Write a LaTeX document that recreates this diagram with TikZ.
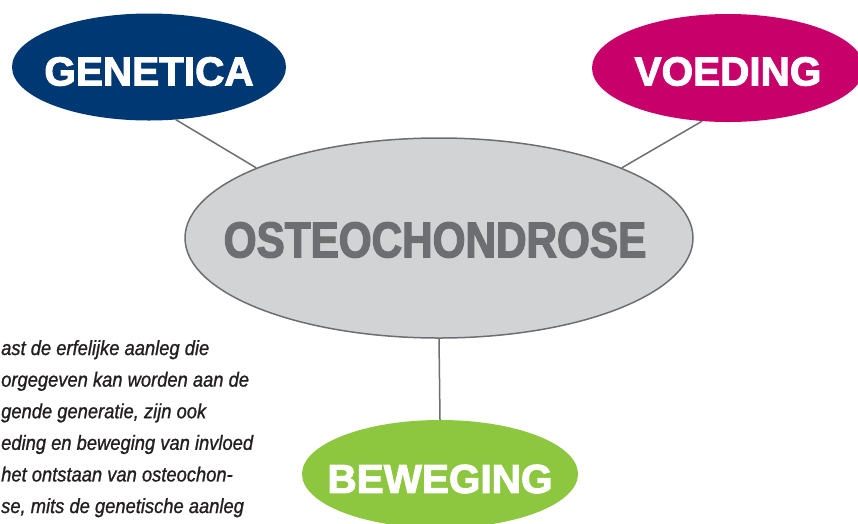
\documentclass[tikz,border=0pt]{standalone}
\usepackage{fontspec}
\usetikzlibrary{shapes.geometric}
\definecolor{genblue}{HTML}{003874}
\definecolor{voedmagenta}{HTML}{C8006A}
\definecolor{bewgreen}{HTML}{8DC63F}
\definecolor{hubgray}{HTML}{D1D3D4}
\definecolor{linegray}{HTML}{6D6E71}
\definecolor{textdark}{HTML}{231F20}
\newfontfamily\labelfont[FakeBold=2.5]{Liberation Sans Bold}
\newfontfamily\hubfont[FakeStretch=0.84, FakeBold=2.5]{Liberation Sans Bold}
\newfontfamily\bodyfont[FakeStretch=0.895, FakeBold=1]{Liberation Sans Italic}

\begin{document}
\begin{tikzpicture}[x=1pt, y=-1pt,
    hub/.style={ellipse, draw=linegray, line width=1.5pt, fill=hubgray,
                minimum width=508pt, minimum height=200pt, inner sep=0pt},
    hubtext/.style={text=linegray, inner sep=0pt,
                    font=\hubfont\fontsize{50.3}{50.3}\selectfont},
    factor/.style={ellipse, minimum width=274pt, minimum height=107pt, inner sep=0pt},
    factortext/.style={text=white, inner sep=0pt,
                       font=\labelfont\fontsize{40.5}{40.5}\selectfont},
    link/.style={draw=linegray, line width=1.5pt},
    note/.style={anchor=base west, inner sep=0pt, text=textdark,
                 font=\bodyfont\fontsize{20.5}{20.5}\selectfont}
  ]
    \clip (0,0) rectangle (858,523);

    % Center
    \node[hub] (osteo) at (439,238) {};
    \node[hubtext] (osteolabel) at ([xshift=-4pt, yshift=-2pt]osteo.center) {OSTEOCHONDROSE};

    % Factors
    \node[factor, fill=genblue] (genetica) at (149,67) {};
    \node[factortext] (geneticalabel) at ([yshift=-4.5pt]genetica.center) {GENETICA};

    \node[factor, fill=voedmagenta, minimum width=272pt, minimum height=108pt] (voeding) at (728,68) {};
    \node[factortext] (voedinglabel) at ([yshift=-3.5pt]voeding.center) {VOEDING};

    \node[factor, fill=bewgreen, minimum width=276pt, minimum height=108pt] (beweging) at (440,474) {};
    \node[factortext] (bewegginglabel) at ([yshift=-5pt]beweging.center) {BEWEGING};

    % Links
    \draw[link] (genetica.-63) -- (osteo.159);
    \draw[link] (voeding.-116) -- (osteo.21.5);
    \draw[link] (osteo.south) -- (beweging.north);

    % Note
    \foreach \txt [count=\i from 0] in {{ast de erfelijke aanleg die},
        {orgegeven kan worden aan de}, {gende generatie, zijn ook},
        {eding en beweging van invloed}, {het ontstaan van osteochon-},
        {se, mits de genetische aanleg}}
      \node[note] (note\i) at (1, 355+31.6*\i) {\txt};
  \end{tikzpicture}
\end{document}
